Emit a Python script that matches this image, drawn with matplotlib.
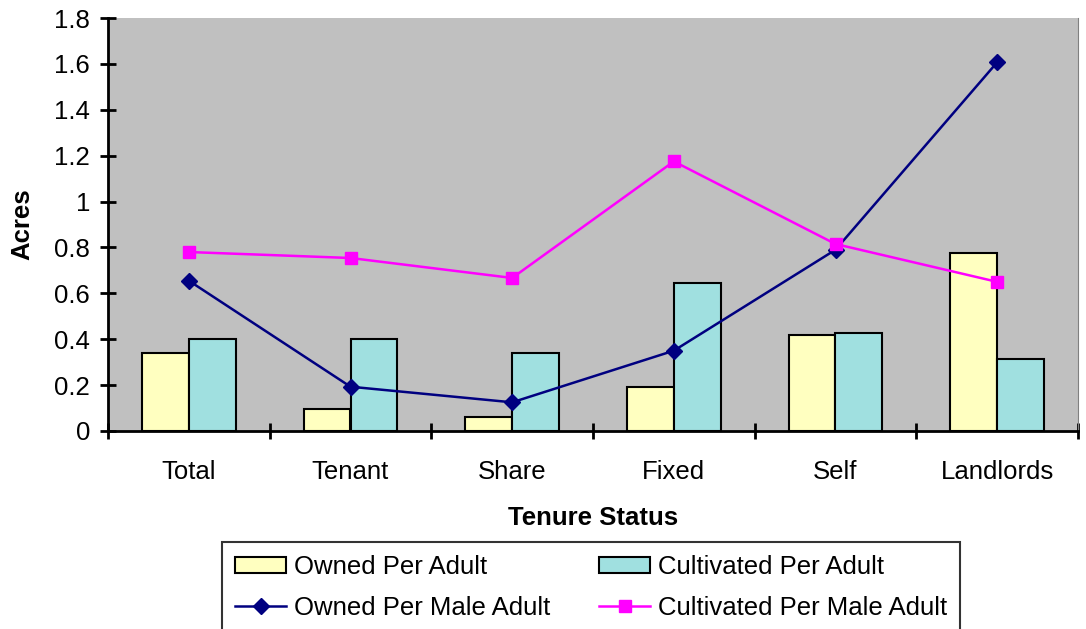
import numpy as np
import matplotlib.pyplot as plt
from matplotlib.lines import Line2D
from matplotlib.patches import Patch

plt.rcParams['font.family'] = ['Liberation Sans', 'DejaVu Sans']

categories = ['Total', 'Tenant', 'Share', 'Fixed', 'Self', 'Landlords']
owned_adult = [0.34, 0.095, 0.06, 0.19, 0.417, 0.775]
cult_adult = [0.40, 0.40, 0.34, 0.644, 0.426, 0.313]
owned_male = [0.655, 0.193, 0.125, 0.35, 0.79, 1.607]
cult_male = [0.78, 0.754, 0.667, 1.175, 0.815, 0.65]
yticks = [0, 0.2, 0.4, 0.6, 0.8, 1, 1.2, 1.4, 1.6, 1.8]
ylabels = ['0', '0.2', '0.4', '0.6', '0.8', '1', '1.2', '1.4', '1.6', '1.8']

fs = 18.5

fig = plt.figure(figsize=(10.86, 6.29), dpi=100)
ax = fig.add_axes([108 / 1086, 198 / 629, 970 / 1086, 413 / 629])
ax.set_facecolor('#c0c0c0')

x = np.arange(len(categories))
w = 0.29
ax.bar(x - w / 2, owned_adult, w, color='#ffffc0', edgecolor='black', linewidth=1.5, zorder=2)
ax.bar(x + w / 2, cult_adult, w, color='#a0e0e0', edgecolor='black', linewidth=1.5, zorder=2)
ax.plot(x, owned_male, color='#000080', marker='D', markersize=8, linewidth=1.8, zorder=3)
ax.plot(x, cult_male, color='#ff00ff', marker='s', markersize=8, markerfacecolor='#ff00ff',
        markeredgecolor='#ff00ff', linewidth=1.8, zorder=3)

ax.set_xlim(-0.5, len(categories) - 0.5)
ax.set_ylim(0, 1.8)
ax.set_yticks(yticks)
ax.set_yticklabels(ylabels, fontsize=fs)
ax.set_xticks(x)
ax.set_xticklabels(categories, fontsize=fs)
ax.set_xticks(np.arange(len(categories) + 1) - 0.5, minor=True)
ax.tick_params(axis='x', which='major', length=0, pad=21)
ax.tick_params(axis='x', which='minor', length=12, width=2, direction='inout')
ax.tick_params(axis='y', length=12, width=2, direction='inout', pad=7)

ax.spines['top'].set_visible(False)
ax.spines['right'].set_color('#808080')
ax.spines['left'].set_linewidth(2)
ax.spines['bottom'].set_linewidth(2)

ax.set_xlabel('Tenure Status', fontsize=fs, fontweight='bold', labelpad=16)
ax.set_ylabel('Acres', fontsize=fs, fontweight='bold', labelpad=14)

# column-first fill: bars on the top row, lines below
handles = [
    Patch(facecolor='#ffffc0', edgecolor='black', linewidth=1.5),
    Line2D([], [], color='#000080', marker='D', markersize=8, linewidth=1.8),
    Patch(facecolor='#a0e0e0', edgecolor='black', linewidth=1.5),
    Line2D([], [], color='#ff00ff', marker='s', markersize=8, linewidth=1.8),
]
labels = ['Owned Per Adult', 'Owned Per Male Adult', 'Cultivated Per Adult', 'Cultivated Per Male Adult']
leg = fig.legend(handles, labels, ncol=2, loc='upper left', bbox_to_anchor=(222 / 1086, 1 - 542 / 629),
                 fontsize=fs, frameon=True, fancybox=False, edgecolor='black', borderaxespad=0,
                 handlelength=2.0, handleheight=0.6, handletextpad=0.3, columnspacing=1.9,
                 labelspacing=0.65, borderpad=0.5)
leg.get_frame().set_linewidth(1.5)

fig.savefig('out.png', dpi=100)
